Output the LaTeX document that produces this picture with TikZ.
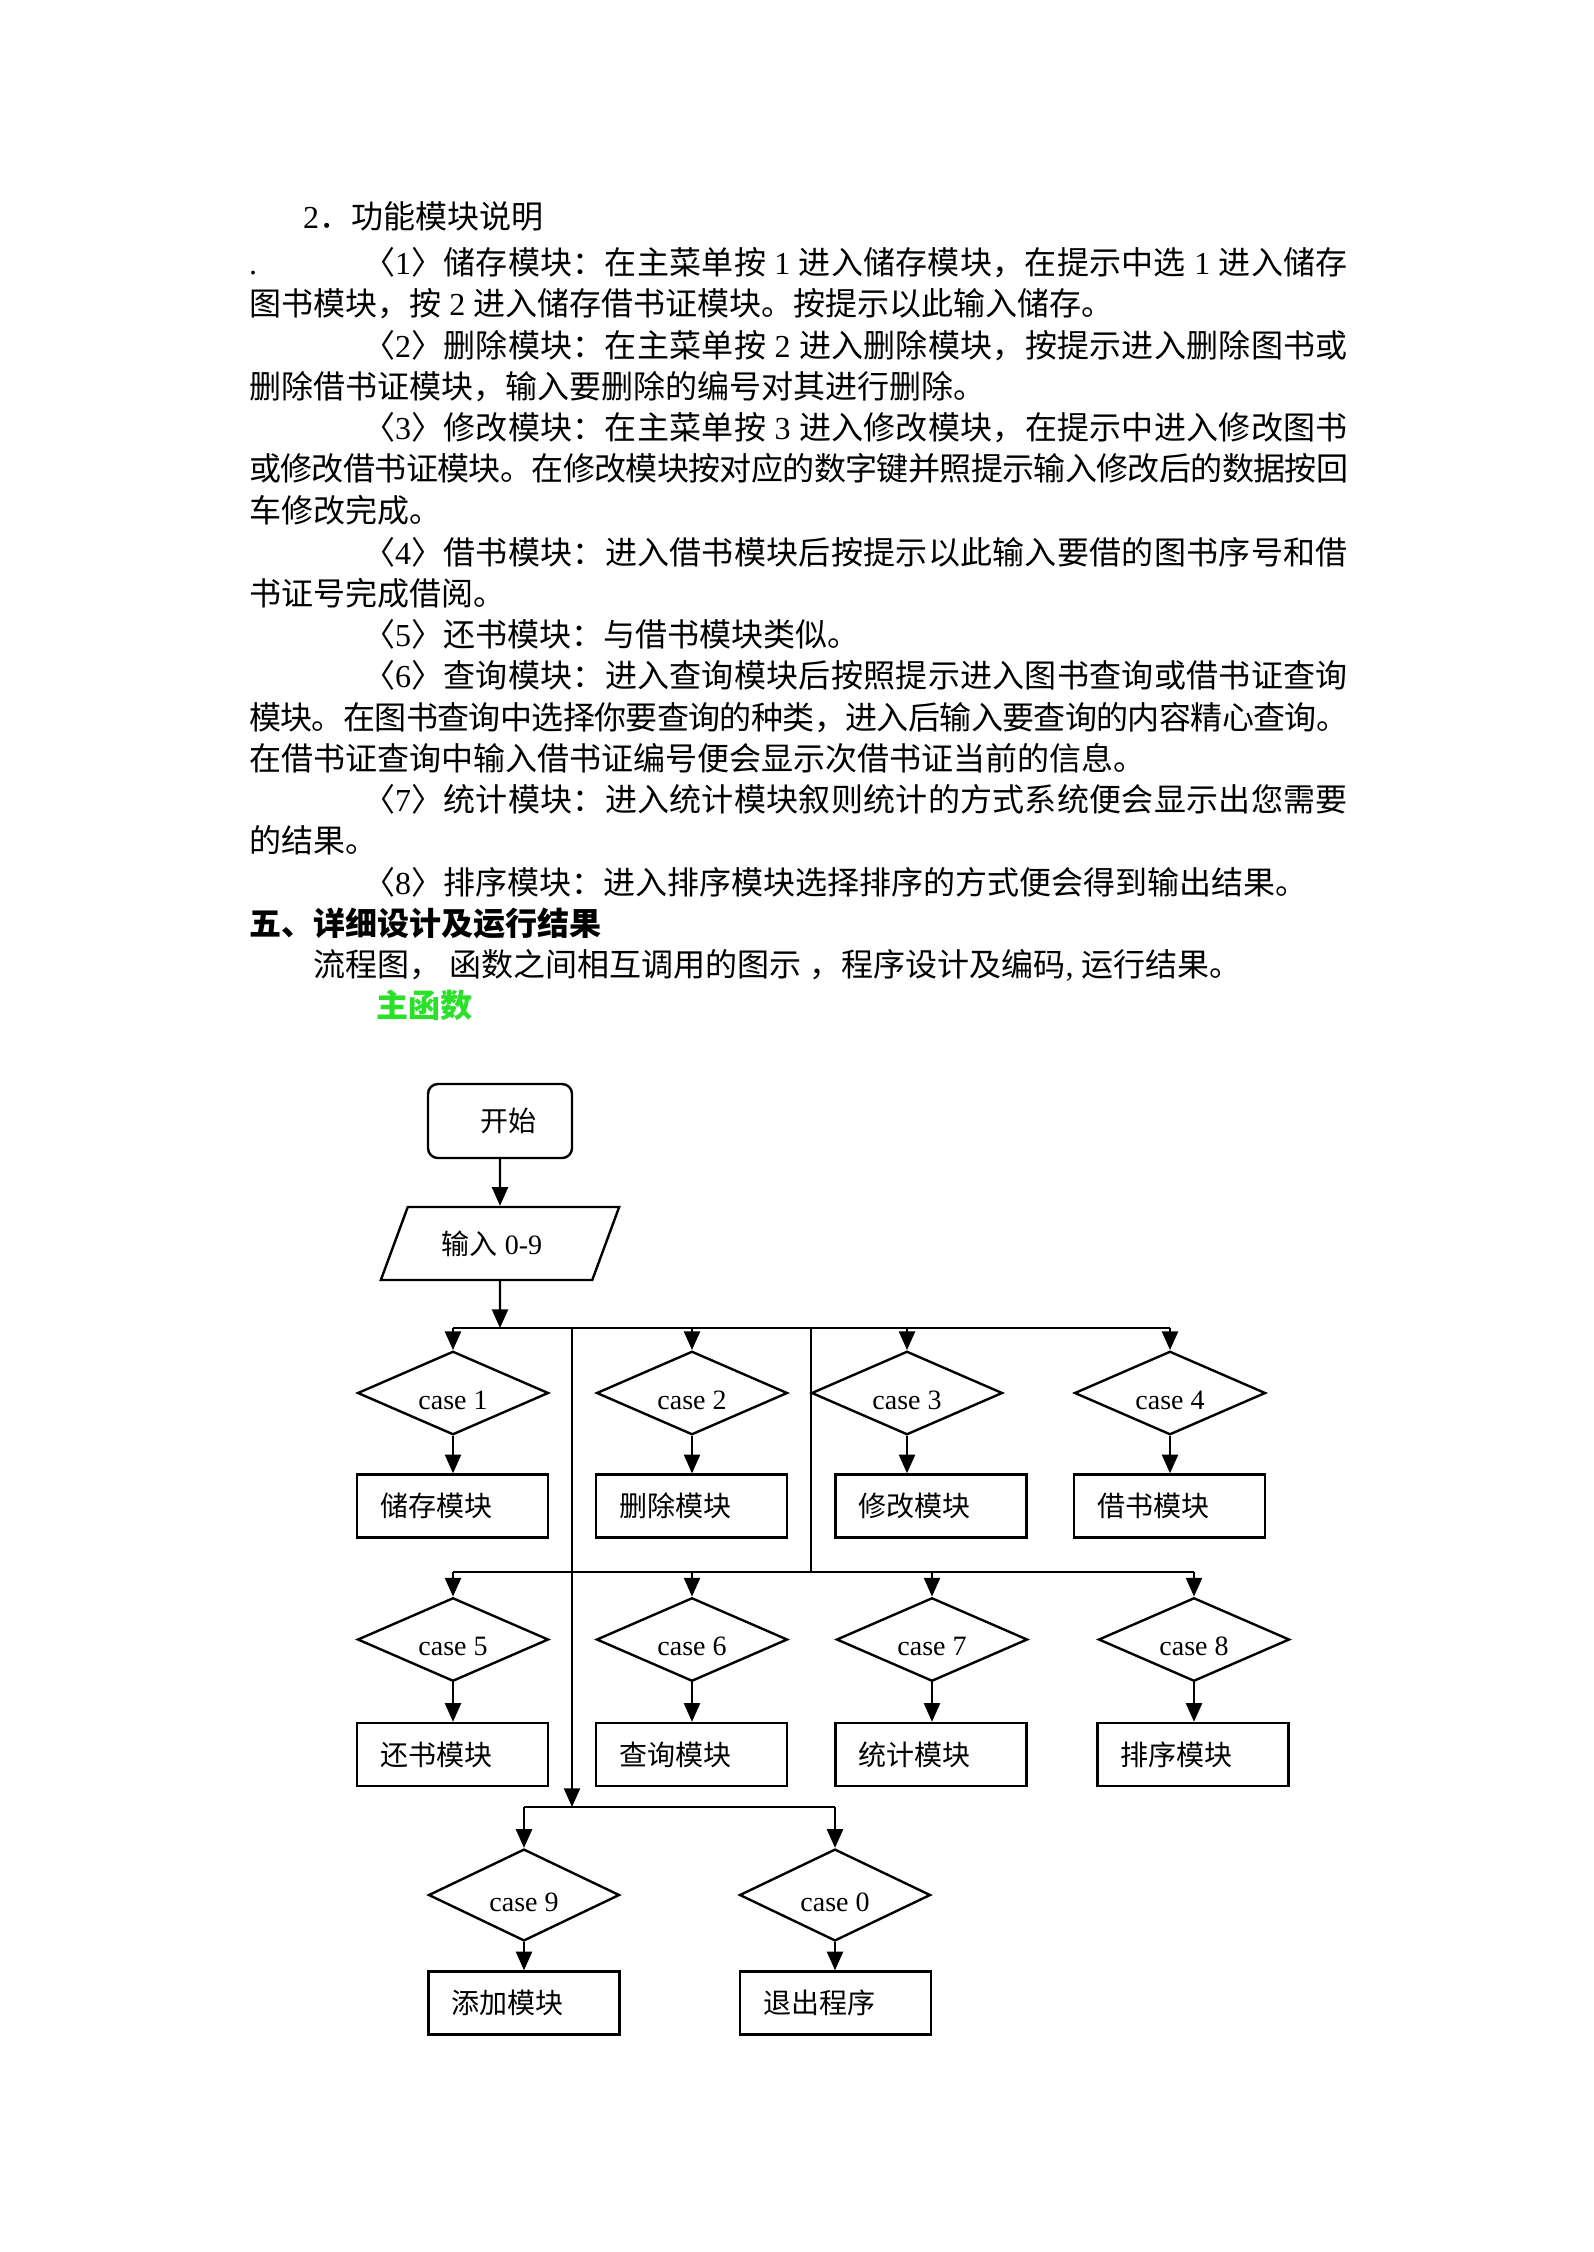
\documentclass[tikz,border=0pt]{standalone}
\usepackage{fontspec}
\setmainfont{Liberation Serif}
\newfontfamily\cjkfont{Noto Sans CJK SC}
\usepackage{tikz}
\usetikzlibrary{shapes.geometric, arrows.meta}

% Chinese characters in the CJK font, the rest in the main font
\XeTeXinterchartokenstate=1
\newXeTeXintercharclass\cjkclass
\newcount\cjkcode
\def\setcjkrange#1#2{%
  \cjkcode=#1
  \loop
    \XeTeXcharclass\cjkcode=\cjkclass
    \advance\cjkcode by 1
  \ifnum\cjkcode<#2 \repeat}
\setcjkrange{"3000}{"3040}
\setcjkrange{"4E00}{"A000}
\setcjkrange{"FF00}{"FFF0}
\XeTeXinterchartoks 0 \cjkclass = {\cjkfont}
\XeTeXinterchartoks 4095 \cjkclass = {\cjkfont}
\XeTeXinterchartoks \cjkclass 0 = {\rmfamily}
\XeTeXinterchartoks \cjkclass 4095 = {\rmfamily}
\XeTeXinterchartoks \cjkclass \cjkclass = {\hskip 0pt plus 1pt minus 0.5pt}

% justified lines of the text block
\newcommand\jfull[1]{\makebox[144.8mm][s]{#1}}
\newcommand\jindent[1]{\makebox[129.7mm][s]{#1}}

\definecolor{funcgreen}{RGB}{40,225,40}

\begin{document}
\begin{tikzpicture}[x=0.13174mm, y=-0.13174mm, line width=0.9pt,
    body/.style={anchor=base west, inner sep=0pt, font=\fontsize{12}{15}\selectfont},
    flow/.style={draw, font=\fontsize{10.5}{12}\selectfont},
    startbox/.style={flow, rectangle, rounded corners=1.3mm, minimum width=18.97mm, minimum height=9.75mm},
    inputbox/.style={flow, trapezium, trapezium left angle=56.7, trapezium right angle=123.3,
        trapezium stretches=true, minimum width=31.5mm, minimum height=9.62mm, inner sep=0pt},
    casebox/.style={flow, diamond, aspect=2.4, minimum width=25.16mm, minimum height=11mm, inner sep=0pt,
        text height=12pt, text depth=0pt},
    modbox/.style={flow, rectangle, text width=19.1mm, inner xsep=3.03mm, inner ysep=0pt,
        minimum height=8.3mm, align=left},
    arrow/.style={-{Triangle[length=7pt, width=6pt]}}
]
        \fill[white] (0,0) rectangle (1594,2252);

        % text above the chart
        \node[body] (head) at (302,229) {2．功能模块说明};
        \node[body] (dot) at (248,275) {.};
        \node[body] (p1a) at (362,275) {\jindent{〈1〉储存模块：在主菜单按 1 进入储存模块，在提示中选 1 进入储存}};
        \node[body] (p1b) at (248,316) {图书模块，按 2 进入储存借书证模块。按提示以此输入储存。};
        \node[body] (p2a) at (362,357.5) {\jindent{〈2〉删除模块：在主菜单按 2 进入删除模块，按提示进入删除图书或}};
        \node[body] (p2b) at (248,399) {删除借书证模块，输入要删除的编号对其进行删除。};
        \node[body] (p3a) at (362,440) {\jindent{〈3〉修改模块：在主菜单按 3 进入修改模块，在提示中进入修改图书}};
        \node[body] (p3b) at (248,481) {\jfull{或修改借书证模块。在修改模块按对应的数字键并照提示输入修改后的数据按回}};
        \node[body] (p3c) at (248,522.5) {车修改完成。};
        \node[body] (p4a) at (362,564) {\jindent{〈4〉借书模块：进入借书模块后按提示以此输入要借的图书序号和借}};
        \node[body] (p4b) at (248,605) {书证号完成借阅。};
        \node[body] (p5a) at (362,646) {〈5〉还书模块：与借书模块类似。};
        \node[body] (p6a) at (362,687.5) {\jindent{〈6〉查询模块：进入查询模块后按照提示进入图书查询或借书证查询}};
        \node[body] (p6b) at (248,729) {\jfull{模块。在图书查询中选择你要查询的种类，进入后输入要查询的内容精心查询。}};
        \node[body] (p6c) at (248,770) {在借书证查询中输入借书证编号便会显示次借书证当前的信息。};
        \node[body] (p7a) at (362,811) {\jindent{〈7〉统计模块：进入统计模块叙则统计的方式系统便会显示出您需要}};
        \node[body] (p7b) at (248,852.5) {的结果。};
        \node[body] (p8a) at (362,894) {〈8〉排序模块：进入排序模块选择排序的方式便会得到输出结果。};
        \node[body, font=\fontsize{12}{15}\selectfont\bfseries] (sec) at (248,935) {五、详细设计及运行结果};
        \node[body] (intro) at (312,976) {流程图， 函数之间相互调用的图示 ，程序设计及编码, 运行结果。};
        \node[body, font=\fontsize{12}{15}\selectfont\bfseries, text=funcgreen] (mainfunc) at (375,1017.5) {主函数};

        % flow chart
        \node[startbox] (start) at (500,1121) {\hspace*{2.2mm}开始};
        \node[inputbox] (input) at (500,1243.5) {输入 0-9\hspace*{2.1mm}};
        \coordinate (bus1) at (500,1328);

        \node[casebox] (c1) at (453,1393) {case 1};
        \node[casebox] (c2) at (692,1393) {case 2};
        \node[casebox] (c3) at (907,1393) {case 3};
        \node[casebox] (c4) at (1170,1393) {case 4};
        \node[modbox] (m1) at (452.5,1506) {储存模块};
        \node[modbox] (m2) at (691.5,1506) {删除模块};
        \node[modbox] (m3) at (931,1506) {修改模块};
        \node[modbox] (m4) at (1169.5,1506) {借书模块};

        \node[casebox] (c5) at (453,1639.5) {case 5};
        \node[casebox] (c6) at (692,1639.5) {case 6};
        \node[casebox] (c7) at (932,1639.5) {case 7};
        \node[casebox] (c8) at (1194,1639.5) {case 8};
        \node[modbox] (m5) at (452.5,1754.5) {还书模块};
        \node[modbox] (m6) at (691.5,1754.5) {查询模块};
        \node[modbox] (m7) at (931,1754.5) {统计模块};
        \node[modbox] (m8) at (1193,1754.5) {排序模块};

        \node[casebox, minimum height=12.1mm] (c9) at (524,1895) {case 9};
        \node[casebox, minimum height=12.1mm] (c0) at (835,1895) {case 0};
        \node[modbox] (m9) at (524,2003) {添加模块};
        \node[modbox] (m0) at (835.5,2003) {退出程序};

        \coordinate (v1) at (572,1328);
        \coordinate (bus3) at (572,1807);
        \coordinate (v2) at (811,1328);
        \coordinate (bus2) at (811,1572);

        \draw[arrow] (start) -- (input);
        \draw[arrow] (input) -- (bus1);

        \draw (c1.north |- bus1) -- (c4.north |- bus1);
        \draw[arrow] (c1.north |- bus1) -- (c1.north);
        \draw[arrow] (c2.north |- bus1) -- (c2.north);
        \draw[arrow] (c3.north |- bus1) -- (c3.north);
        \draw[arrow] (c4.north |- bus1) -- (c4.north);
        \draw[arrow] (c1.south) -- (c1.south |- m1.north);
        \draw[arrow] (c2.south) -- (c2.south |- m2.north);
        \draw[arrow] (c3.south) -- (c3.south |- m3.north);
        \draw[arrow] (c4.south) -- (c4.south |- m4.north);

        \draw (v2) -- (bus2);
        \draw (c5.north |- bus2) -- (c8.north |- bus2);
        \draw[arrow] (c5.north |- bus2) -- (c5.north);
        \draw[arrow] (c6.north |- bus2) -- (c6.north);
        \draw[arrow] (c7.north |- bus2) -- (c7.north);
        \draw[arrow] (c8.north |- bus2) -- (c8.north);
        \draw[arrow] (c5.south) -- (c5.south |- m5.north);
        \draw[arrow] (c6.south) -- (c6.south |- m6.north);
        \draw[arrow] (c7.south) -- (c7.south |- m7.north);
        \draw[arrow] (c8.south) -- (c8.south |- m8.north);

        \draw[arrow] (v1) -- (bus3);
        \draw (c9.north |- bus3) -- (c0.north |- bus3);
        \draw[arrow] (c9.north |- bus3) -- (c9.north);
        \draw[arrow] (c0.north |- bus3) -- (c0.north);
        \draw[arrow] (c9.south) -- (c9.south |- m9.north);
        \draw[arrow] (c0.south) -- (c0.south |- m0.north);
    \end{tikzpicture}
\end{document}
